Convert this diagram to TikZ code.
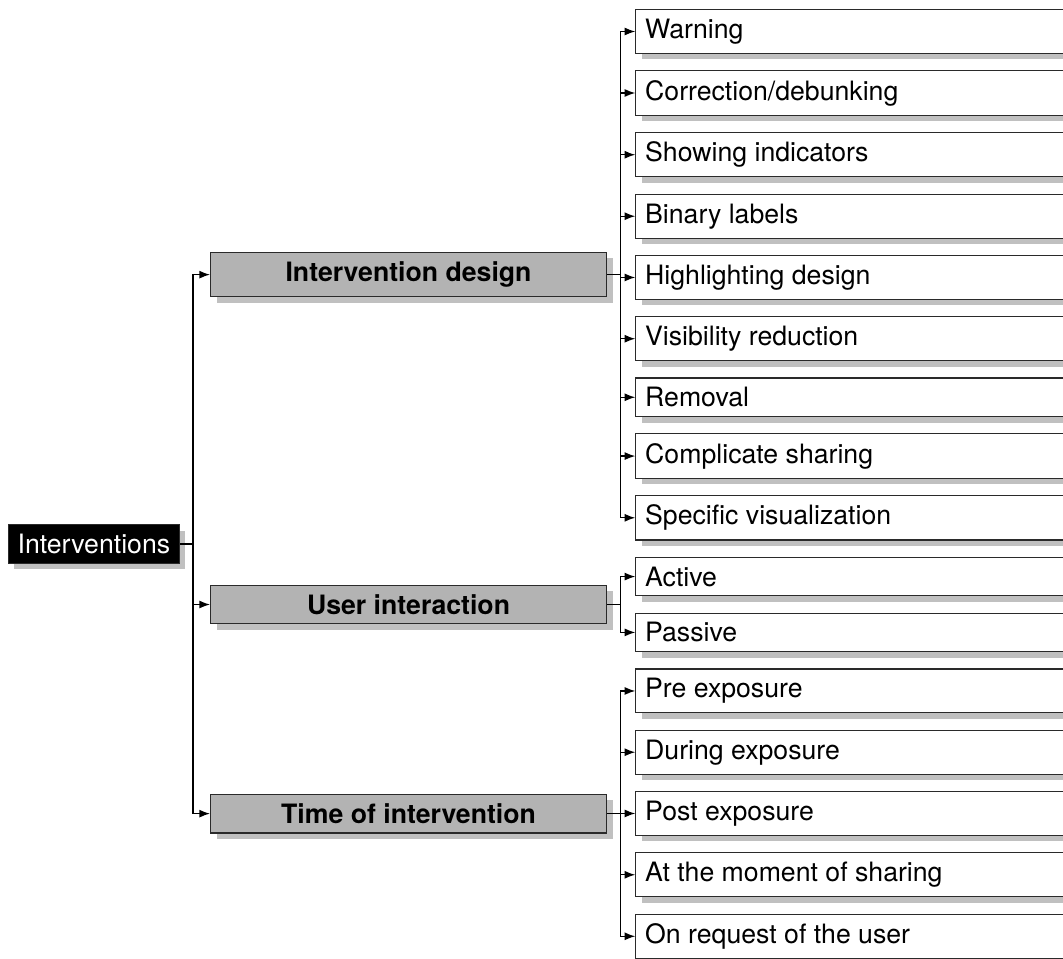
\documentclass[tikz,border=0pt]{standalone}
\usepackage{fontspec}
\setmainfont{TeX Gyre Heros}
\usetikzlibrary{positioning,calc,shadows,arrows.meta}
\definecolor{midgray}{HTML}{B3B3B3}
\definecolor{shgray}{HTML}{C0C0C0}
\definecolor{edgegray}{HTML}{2A2A2A}
\newcommand\lfx[1]{\makebox[360pt][l]{#1}}
\begin{document}
\begin{tikzpicture}[x=0.75pt,y=-0.75pt,
  font=\fontsize{20}{24}\selectfont,
  node distance=12.2pt,
  box/.style={draw=edgegray, line width=0.8pt, inner sep=7pt,
    general shadow={fill=shgray, shadow xshift=4.5pt, shadow yshift=-4.5pt}},
  leafbox/.style={box, fill=white},
  midbox/.style={box, fill=midgray, minimum width=297pt, font=\fontsize{20}{24}\selectfont\bfseries},
  rootbox/.style={box, fill=black, text=white},
  conn/.style={draw=black, line width=1pt},
  arr/.style={conn, -{Latex[length=8pt,width=6pt]}}]
\clip (0,0) rectangle (1063,958);
% leaves
\node[leafbox, anchor=north west] (l1) at (635.3,9) {\lfx{Warning}};
\node[leafbox, below=of l1] (l2) {\lfx{Correction/debunking}};
\node[leafbox, below=of l2] (l3) {\lfx{Showing indicators}};
\node[leafbox, below=of l3] (l4) {\lfx{Binary labels}};
\node[leafbox, below=of l4] (l5) {\lfx{Highlighting design}};
\node[leafbox, below=of l5] (l6) {\lfx{Visibility reduction}};
\node[leafbox, below=of l6] (l7) {\lfx{Removal}};
\node[leafbox, below=of l7] (l8) {\lfx{Complicate sharing}};
\node[leafbox, below=of l8] (l9) {\lfx{Specific visualization}};
\node[leafbox, below=of l9] (l10) {\lfx{Active}};
\node[leafbox, below=of l10] (l11) {\lfx{Passive}};
\node[leafbox, below=of l11] (l12) {\lfx{Pre exposure}};
\node[leafbox, below=of l12] (l13) {\lfx{During exposure}};
\node[leafbox, below=of l13] (l14) {\lfx{Post exposure}};
\node[leafbox, below=of l14] (l15) {\lfx{At the moment of sharing}};
\node[leafbox, below=of l15] (l16) {\lfx{On request of the user}};
% middle nodes
\coordinate (mx) at (210,0);
\coordinate (c1) at ($(l1.west)!0.5!(l9.west)$);
\coordinate (c2) at ($(l10.west)!0.5!(l11.west)$);
\coordinate (c3) at ($(l12.west)!0.5!(l16.west)$);
\node[midbox, anchor=west] (m1) at (c1 -| mx) {Intervention design};
\node[midbox, anchor=west] (m2) at (c2 -| mx) {User interaction};
\node[midbox, anchor=west] (m3) at (c3 -| mx) {Time of intervention};
% root
\coordinate (rx) at (180,0);
\coordinate (c0) at ($(m1.west)!0.5!(m3.west)$);
\node[rootbox, anchor=east] (r) at (c0 -| rx) {Interventions};
% connectors
\coordinate (rt) at ($(r.east)+(13,0)$);
\foreach \m in {m1,m2,m3} \draw[arr] (r.east) -- (rt) |- (\m.west);
\coordinate (t1) at ($(m1.east)+(13.6,0)$);
\coordinate (t2) at ($(m2.east)+(13.6,0)$);
\coordinate (t3) at ($(m3.east)+(13.6,0)$);
\foreach \l in {l1,l2,l3,l4,l5,l6,l7,l8,l9} \draw[arr] (m1.east) -- (t1) |- (\l.west);
\foreach \l in {l10,l11} \draw[arr] (m2.east) -- (t2) |- (\l.west);
\foreach \l in {l12,l13,l14,l15,l16} \draw[arr] (m3.east) -- (t3) |- (\l.west);
\end{tikzpicture}
\end{document}
